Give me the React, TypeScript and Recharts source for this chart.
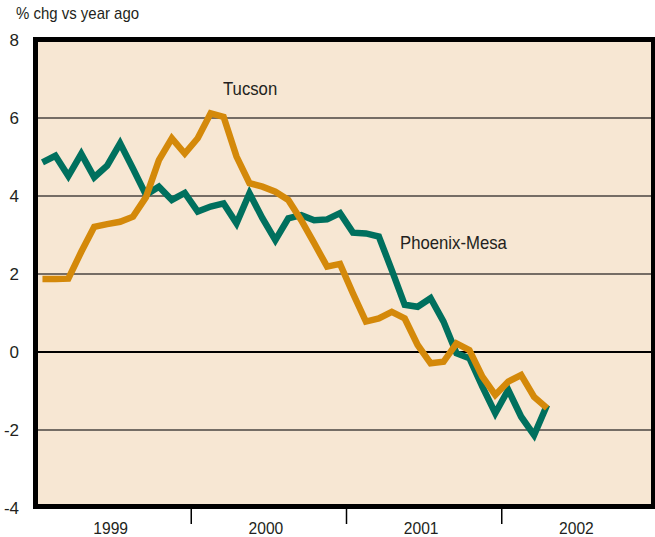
import { CartesianGrid, Line, LineChart, ReferenceLine, XAxis, YAxis } from "recharts";

const FONT = "'Liberation Sans Narrow', 'Arial Narrow', 'Liberation Sans', sans-serif";
const BG = "#f7e7d3";
const TEAL = "#00705e";
const GOLD = "#d4890a";
const TEXT = "#231f20";

// monthly, Jan 1999 .. Apr 2002
const PHOENIX = [
  4.86, 5.03, 4.51, 5.08, 4.48, 4.78, 5.35, 4.7, 4.03, 4.24, 3.9, 4.08,
  3.6, 3.73, 3.81, 3.3, 4.07, 3.43, 2.87, 3.43, 3.51, 3.38, 3.4, 3.56,
  3.06, 3.04, 2.96, 2.1, 1.21, 1.16, 1.38, 0.78, -0.03, -0.16, -0.89, -1.57,
  -0.97, -1.66, -2.13, -1.36,
];
const TUCSON = [
  1.87, 1.87, 1.88, 2.57, 3.21, 3.28, 3.34, 3.47, 3.97, 4.92, 5.48, 5.09,
  5.48, 6.12, 6.03, 5.01, 4.33, 4.24, 4.11, 3.9, 3.38, 2.79, 2.19, 2.26,
  1.5, 0.78, 0.86, 1.03, 0.86, 0.18, -0.29, -0.25, 0.22, 0.05, -0.63, -1.1,
  -0.76, -0.59, -1.15, -1.44,
];
const YEARS = ["1999", "2000", "2001", "2002"];
const Y_TICKS = [-4, -2, 0, 2, 4, 6, 8];

const data = PHOENIX.map((p, i) => ({ m: i + 0.5, phoenix: p, tucson: TUCSON[i] }));

const X_TICKS = [6, 12, 18, 24, 30, 36, 42];

function YearTick(props: any) {
  const { x, y, payload } = props;
  const v = payload.value as number;
  if (v % 12 === 0) {
    return <line x1={x} x2={x} y1={y} y2={y + 16} stroke="#000" strokeWidth={1.5} />;
  }
  return (
    <text
      x={0}
      y={0}
      transform={`translate(${x - 3},${y + 26}) scale(0.92,1)`}
      textAnchor="middle"
      fontSize={17}
      fill={TEXT}
      fontFamily={FONT}
    >
      {YEARS[(v - 6) / 12]}
    </text>
  );
}

const labelStyle = {
  position: "absolute" as const,
  fontFamily: FONT,
  color: TEXT,
  whiteSpace: "nowrap" as const,
  transform: "scaleX(0.88)",
  transformOrigin: "left top",
};

export default function App() {
  return (
    <div style={{ position: "absolute", left: 0, top: 0, width: 655, height: 537, overflow: "hidden", background: "#fff" }}>
      <LineChart width={657} height={537} data={data} margin={{ top: 40, right: 0, bottom: 0, left: 0 }}>
        <CartesianGrid vertical={false} fill={BG} fillOpacity={1} stroke="#4a4540" strokeWidth={1.5} />
        <XAxis
          dataKey="m"
          type="number"
          domain={[0, 48]}
          ticks={X_TICKS}
          tick={YearTick}
          tickLine={false}
          axisLine={false}
          tickSize={0}
          tickMargin={0}
          height={29}
          interval={0}
        />
        <YAxis
          type="number"
          domain={[-4, 8]}
          ticks={Y_TICKS}
          width={36}
          tickLine={false}
          axisLine={false}
          tickMargin={11}
          tick={{ fontSize: 17, fill: TEXT, fontFamily: FONT }}
        />
        <ReferenceLine y={0} stroke="#000" strokeWidth={2} />
        <Line
          dataKey="phoenix"
          type="linear"
          stroke={TEAL}
          strokeWidth={6.5}
          strokeLinejoin="miter"
          dot={false}
          isAnimationActive={false}
        />
        <Line
          dataKey="tucson"
          type="linear"
          stroke={GOLD}
          strokeWidth={6.5}
          strokeLinejoin="miter"
          dot={false}
          isAnimationActive={false}
        />
      </LineChart>
      <div
        style={{
          position: "absolute",
          left: 33,
          top: 37,
          width: 623,
          height: 472,
          border: "5px solid #000",
          boxSizing: "border-box",
          pointerEvents: "none",
        }}
      />
      <div style={{ ...labelStyle, left: 16, top: 4, fontSize: 17 }}>% chg vs year ago</div>
      <div style={{ ...labelStyle, left: 223, top: 78, fontSize: 19 }}>Tucson</div>
      <div style={{ ...labelStyle, left: 400, top: 232, fontSize: 19 }}>Phoenix-Mesa</div>
    </div>
  );
}
